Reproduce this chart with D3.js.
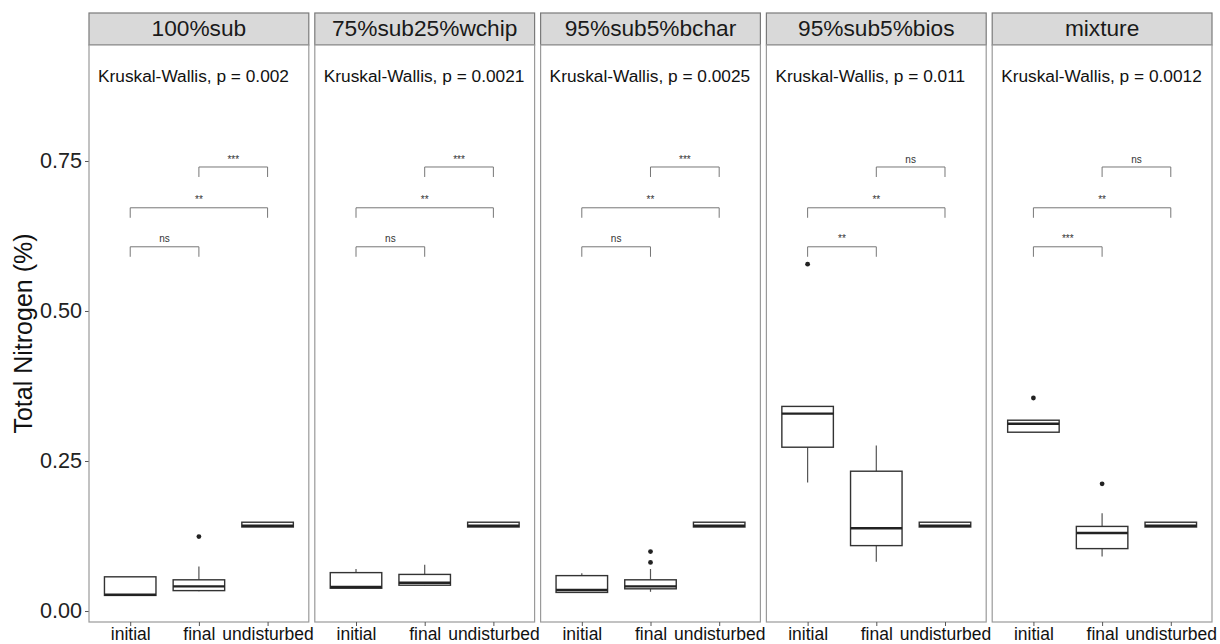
<!DOCTYPE html>
<html><head><meta charset="utf-8">
<script src="https://cdn.jsdelivr.net/npm/d3@7"></script>
<style>body{margin:0;background:#fff}svg{display:block}text{font-family:"Liberation Sans",Arial,sans-serif}</style>
</head><body><svg id="c" width="1220" height="644"></svg>
<script>
const panels = ["100%sub","75%sub25%wchip","95%sub5%bchar","95%sub5%bios","mixture"];
const groups = ["initial","final","undisturbed"];
const pValues = ["0.002","0.0021","0.0025","0.011","0.0012"];
// box statistics per panel, per group [initial, final, undisturbed]
const whiskerLow = [[0.026,0.033,0.140],[0.037,0.042,0.140],[0.031,0.032,0.140],[0.214,0.082,0.140],[0.298,0.091,0.140]];
const q1 =         [[0.026,0.034,0.140],[0.038,0.043,0.140],[0.031,0.037,0.140],[0.273,0.109,0.140],[0.298,0.104,0.140]];
const median =     [[0.027,0.041,0.142],[0.040,0.047,0.142],[0.035,0.041,0.142],[0.329,0.138,0.142],[0.312,0.130,0.142]];
const q3 =         [[0.057,0.052,0.148],[0.064,0.061,0.148],[0.059,0.052,0.148],[0.341,0.233,0.148],[0.318,0.141,0.148]];
const whiskerHigh= [[0.057,0.074,0.148],[0.070,0.077,0.148],[0.063,0.070,0.148],[0.341,0.276,0.148],[0.318,0.163,0.148]];
const outliers =   [[[],[0.124],[]],[[],[],[]],[[],[0.081,0.099],[]],[[0.578],[],[]],[[0.355],[0.212],[]]];
// pairwise comparison brackets
const sigInitFinal = ["ns","ns","ns","**","***"];
const sigInitUnd   = ["**","**","**","**","**"];
const sigFinalUnd  = ["***","***","***","ns","ns"];
const bracketY = [0.607, 0.672, 0.74];
const yTicks = [0,0.25,0.5,0.75];

const svg = d3.select("#c");
const topY = 45, bottomY = 622, stripTop = 13;
const panelLeft = 89, panelW = 219.8, gap = 6;
const y = d3.scaleLinear().domain([-0.0183, 0.9433]).range([bottomY, topY]);

// y axis
svg.append("text").attr("transform",`translate(25,${(topY+bottomY)/2}) rotate(-90)`)
  .attr("text-anchor","middle").attr("dominant-baseline","middle")
  .attr("font-size",25).attr("fill","#111").text("Total Nitrogen (%)");
const yAxis = svg.append("g").attr("transform",`translate(${panelLeft},0)`)
  .call(d3.axisLeft(y).tickValues(yTicks).tickFormat(d3.format(".2f")).tickSize(4).tickPadding(3));
yAxis.select(".domain").remove();
yAxis.selectAll(".tick line").attr("stroke","#555");
yAxis.selectAll(".tick text").attr("font-size",21.6).attr("fill","#222")
  .attr("font-family","Liberation Sans, Arial, sans-serif");

panels.forEach((name,i)=>{
  const x0 = panelLeft + i*(panelW+gap);
  const x = d3.scalePoint().domain(groups).range([0,panelW]).padding(0.6);
  const step = x.step();
  const bw = step*0.75;
  const g = svg.append("g").attr("transform",`translate(${x0},0)`);
  // strip
  g.append("rect").attr("x",0).attr("y",stripTop).attr("width",panelW).attr("height",topY-stripTop)
    .attr("fill","#d9d9d9").attr("stroke","#7a7a7a").attr("stroke-width",1.2);
  g.append("text").attr("x",panelW/2).attr("y",(stripTop+topY)/2+1).attr("text-anchor","middle")
    .attr("dominant-baseline","middle").attr("font-size",22.7).attr("fill","#1a1a1a").text(name);
  // panel
  g.append("rect").attr("x",0).attr("y",topY).attr("width",panelW).attr("height",bottomY-topY)
    .attr("fill","#fff").attr("stroke","#9a9a9a").attr("stroke-width",1.2);
  // x axis
  const xa = g.append("g").attr("transform",`translate(0,${bottomY})`)
    .call(d3.axisBottom(x).tickSize(4).tickPadding(2));
  xa.select(".domain").remove();
  xa.selectAll(".tick line").attr("stroke","#555");
  xa.selectAll(".tick text").attr("font-size",17.5).attr("fill","#111")
    .attr("font-family","Liberation Sans, Arial, sans-serif");
  // kruskal text
  g.append("text").attr("x",9).attr("y",y(0.89)).attr("dominant-baseline","middle")
    .attr("font-size",17.3).attr("fill","#111").text(`Kruskal-Wallis, p = ${pValues[i]}`);
  // boxes
  groups.forEach((grp,j)=>{
    const cx = x(grp);
    g.append("line").attr("x1",cx).attr("x2",cx).attr("y1",y(q3[i][j])).attr("y2",y(whiskerHigh[i][j]))
      .attr("stroke","#555").attr("stroke-width",1.2);
    g.append("line").attr("x1",cx).attr("x2",cx).attr("y1",y(q1[i][j])).attr("y2",y(whiskerLow[i][j]))
      .attr("stroke","#555").attr("stroke-width",1.2);
    g.append("rect").attr("x",cx-bw/2).attr("width",bw).attr("y",y(q3[i][j]))
      .attr("height",Math.max(0.5,y(q1[i][j])-y(q3[i][j])))
      .attr("fill","#fff").attr("stroke","#333").attr("stroke-width",1.4);
    g.append("line").attr("x1",cx-bw/2).attr("x2",cx+bw/2).attr("y1",y(median[i][j])).attr("y2",y(median[i][j]))
      .attr("stroke","#222").attr("stroke-width",2.4);
    outliers[i][j].forEach(v=>{
      g.append("circle").attr("cx",cx).attr("cy",y(v)).attr("r",2.4).attr("fill","#222");
    });
  });
  // brackets
  const br = [[groups[0],groups[1],sigInitFinal[i]],[groups[0],groups[2],sigInitUnd[i]],[groups[1],groups[2],sigFinalUnd[i]]];
  br.forEach((b,k)=>{
    const yy = y(bracketY[k]);
    const xa1 = x(b[0]), xa2 = x(b[1]);
    g.append("path").attr("d",`M${xa1},${yy+10}V${yy}H${xa2}V${yy+10}`)
      .attr("fill","none").attr("stroke","#777").attr("stroke-width",1);
    g.append("text").attr("x",(xa1+xa2)/2).attr("y",yy-7).attr("text-anchor","middle")
      .attr("dominant-baseline","middle").attr("font-size",10).attr("fill","#333").text(b[2]);
  });
});
</script></body></html>
